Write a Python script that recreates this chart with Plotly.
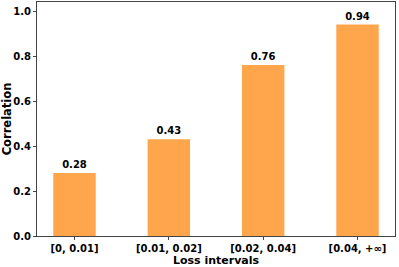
import plotly.graph_objects as go

categories = ["[0, 0.01]", "[0.01, 0.02]", "[0.02, 0.04]", "[0.04, +∞]"]
values = [0.28, 0.43, 0.76, 0.94]
labels = ["0.28", "0.43", "0.76", "0.94"]
y_ticks = [0.0, 0.2, 0.4, 0.6, 0.8, 1.0]

x = list(range(len(categories)))
font = dict(family="DejaVu Sans", size=10, color="black")

fig = go.Figure(go.Bar(
    x=x, y=values, width=0.45,
    marker=dict(color="#FFA64D", line=dict(width=0)),
    text=["<b>%s</b>" % t for t in labels], textposition="outside",
    textfont=font, cliponaxis=False,
))
fig.update_layout(
    width=399, height=267,
    margin=dict(l=37, r=4, t=2, b=31, autoexpand=False),
    plot_bgcolor="white", paper_bgcolor="white",
    font=font, showlegend=False,
)
fig.update_xaxes(
    range=[-0.3975, 3.3975], tickvals=x,
    ticktext=["<b>%s</b>" % c for c in categories],
    showline=True, linecolor="#444", linewidth=1, mirror=True,
    ticks="outside", ticklen=3, tickcolor="#444",
    title=dict(text="<b>Loss intervals</b>", standoff=2,
               font=dict(family="DejaVu Sans", size=11, color="black")),
    showgrid=False, zeroline=False, automargin=False,
)
fig.update_yaxes(
    range=[0, 1.04], tickvals=y_ticks,
    ticktext=["<b>%.1f</b>" % v for v in y_ticks],
    showline=True, linecolor="#444", linewidth=1, mirror=True,
    ticks="outside", ticklen=3, tickcolor="#444",
    title=dict(text="<b>Correlation</b>", standoff=3,
               font=dict(family="DejaVu Sans", size=11.5, color="black")),
    showgrid=False, zeroline=False, automargin=False,
)
fig.write_html(
    "out.html",
    config={"displayModeBar": False},
    post_script="document.body.style.margin='0';document.body.style.overflow='hidden';",
)
